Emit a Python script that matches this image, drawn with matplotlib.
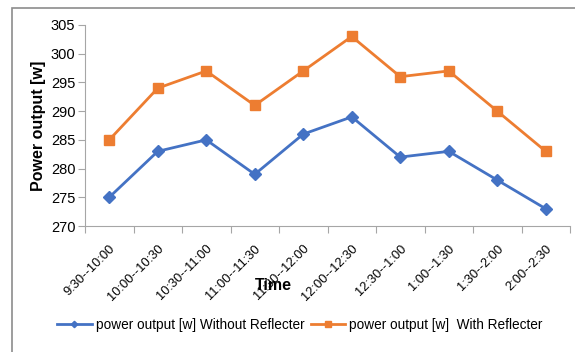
import matplotlib
matplotlib.use("Agg")
import matplotlib.pyplot as plt
from matplotlib.patches import Rectangle

# data
slots = ['9:30--10:00', '10:00--10:30', '10:30--11:00', '11:00--11:30', '11:30--12:00',
         '12:00--12:30', '12:30--1:00', '1:00--1:30', '1:30--2:00', '2:00--2:30']
without_refl = [275, 283, 285, 279, 286, 289, 282, 283, 278, 273]
with_refl = [285, 294, 297, 291, 297, 303, 296, 297, 290, 283]

blue = '#4472C4'
orange = '#ED7D31'
gray = '#A6A6A6'

plt.rcParams['font.family'] = ['Liberation Sans', 'DejaVu Sans']

fig = plt.figure(figsize=(5.75, 3.52), dpi=100)
# outer chart border (only top and left visible in the reference)
fig.patches.append(Rectangle((12 / 575, -0.1), 1.2, (352 - 8) / 352 + 0.1,
                             transform=fig.transFigure, fill=False,
                             edgecolor='#8C8C8C', linewidth=1.2))

ax = fig.add_axes([85 / 575, (352 - 226) / 352, 485 / 575, 201 / 352])
x = range(len(slots))
ax.plot(x, without_refl, color=blue, lw=2, marker='D', ms=6.5, label='power output [w] Without Reflecter')
ax.plot(x, with_refl, color=orange, lw=2, marker='s', ms=7.5, label='power output [w]  With Reflecter')

ax.set_ylim(270, 305)
ax.set_yticks(range(270, 306, 5))
ax.set_xlim(-0.5, len(slots) - 0.5)
ax.set_xticks([i - 0.5 for i in range(len(slots) + 1)], minor=False)
ax.set_xticklabels([])
ax.set_xticks(list(x), minor=True)
ax.set_xticklabels(slots, minor=True, rotation=45, ha='right', rotation_mode='anchor', fontsize=9.3)
ax.tick_params(axis='x', which='minor', length=0, pad=12)
ax.tick_params(axis='x', which='major', length=5, color=gray)
ax.tick_params(axis='y', length=5, color=gray, labelsize=10.5, pad=2)

for s in ['top', 'right']:
    ax.spines[s].set_visible(False)
for s in ['left', 'bottom']:
    ax.spines[s].set_color(gray)

ax.set_ylabel('Power output [w]', fontweight='bold', fontsize=11.5, labelpad=3)
fig.text(273 / 575, 1 - 285 / 352, 'Time', ha='center', va='center', fontweight='bold', fontsize=11.5)

leg = fig.legend(loc='center', bbox_to_anchor=(300 / 575, 1 - 325 / 352), ncol=2, frameon=False,
                 fontsize=9.8, handlelength=2.5, columnspacing=0.5, handletextpad=0.3, markerscale=0.5)

fig.savefig('out.png', dpi=100)
